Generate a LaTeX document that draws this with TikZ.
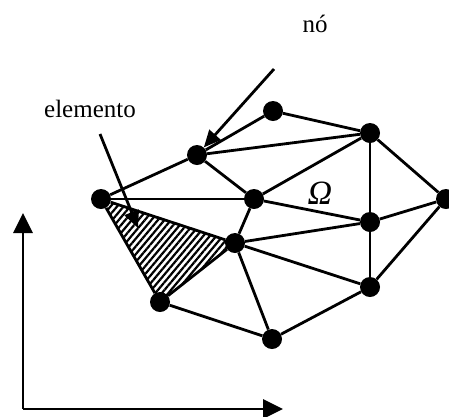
\documentclass[tikz,border=0pt]{standalone}
\usepackage{fontspec}
\setmainfont{Liberation Serif}
\usetikzlibrary{arrows.meta,patterns.meta,backgrounds}
\begin{document}
\begin{tikzpicture}[x=1pt,y=-1pt,
  dot/.style={circle,fill=black,inner sep=0pt,minimum size=20pt},
  edge/.style={line width=2.8pt},
  lbl/.style={font=\fontsize{25}{30}\selectfont,inner sep=0pt},
  pointer/.style={line width=2.8pt,-{Triangle[length=17pt,width=15pt]}},
  axis/.style={line width=2.8pt,-{Triangle[length=20pt,width=19pt]}}]
\useasboundingbox (0,0) rectangle (449,416);
% nodes
\node[dot] (A) at (197,155) {};
\node[dot] (B) at (273,111) {};
\node[dot] (C) at (370,133) {};
\node[dot] (D) at (101,199) {};
\node[dot] (E) at (254,199) {};
\node[dot] (F) at (446,199) {};
\node[dot] (G) at (370,222) {};
\node[dot] (H) at (235,243) {};
\node[dot] (I) at (160,302) {};
\node[dot] (J) at (370,287) {};
\node[dot] (K) at (272,339) {};
\begin{pgfonlayer}{background}
\fill[pattern={Lines[angle=50,distance=5pt,line width=2.2pt]}] (D.center) -- (H.center) -- (I.center) -- cycle;
\draw[edge] (D) -- (A);
\draw[edge] (A) -- (B);
\draw[edge] (A) -- (C);
\draw[edge] (B) -- (C);
\draw[edge] (A) -- (E);
\draw[edge] (E) -- (C);
\draw[edge] (C) -- (G);
\draw[edge] (C) -- (F);
\draw[edge] (D) -- (E);
\draw[edge] (E) -- (G);
\draw[edge] (G) -- (F);
\draw[edge] (E) -- (H);
\draw[edge] (H) -- (G);
\draw[edge] (H) -- (J);
\draw[edge] (H) -- (K);
\draw[edge] (D) -- (H);
\draw[edge] (D) -- (I);
\draw[edge] (I) -- (H);
\draw[edge] (I) -- (K);
\draw[edge] (K) -- (J);
\draw[edge] (J) -- (F);
\draw[edge] (G) -- (J);
\end{pgfonlayer}
% labels
\node[lbl] (no) at (315,24) {nó};
\node[lbl] (elem) at (90,109) {elemento};
\node[lbl,font=\fontsize{34}{40}\selectfont] (omega) at (320,193) {\itshape Ω};
% pointers
\coordinate (nostart) at (274,69);
\draw[pointer] (nostart) -- (A);
\coordinate (elstart) at (100,134);
\coordinate (eltip) at (138,228);
\draw[pointer] (elstart) -- (eltip);
% axes
\coordinate (O) at (23,409);
\coordinate (Ytip) at (23,213);
\coordinate (Xtip) at (283,409);
\draw[axis] (O) -- (Ytip);
\draw[axis] (O) -- (Xtip);
\end{tikzpicture}
\end{document}
